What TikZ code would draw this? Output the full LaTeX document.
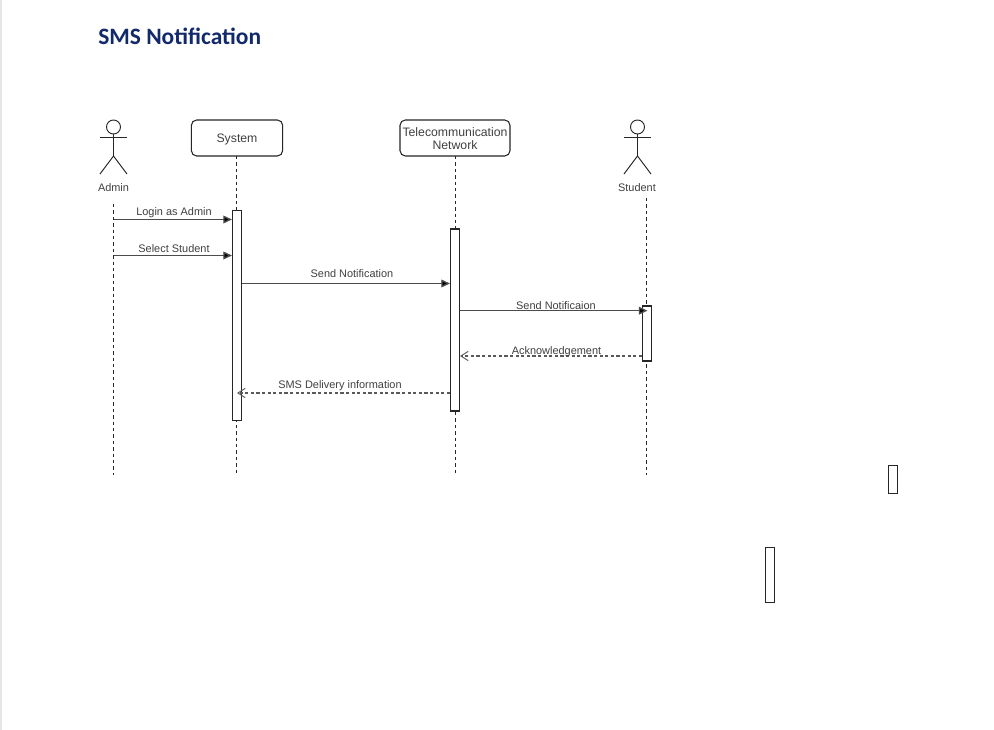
\documentclass[tikz,border=0pt]{standalone}
\usepackage{fontspec}
\setmainfont{Liberation Sans}
\newfontfamily\titlefont{Carlito}
\usetikzlibrary{arrows.meta}
\definecolor{titleblue}{HTML}{12296B}
\definecolor{labelgray}{HTML}{404040}
\definecolor{strip}{HTML}{E6E6E6}
\tikzset{
  x=0.75pt,y=-0.75pt,
  line width=0.75pt,
  lbl/.style={font=\fontsize{8.2pt}{10pt}\selectfont,text=labelgray,inner sep=0pt,align=center},
  titletext/.style={font=\titlefont\bfseries\fontsize{17.6pt}{20pt}\selectfont,text=titleblue,inner sep=0pt,anchor=west},
  lifebox/.style={draw=black!85,line width=0.8pt,rounded corners=4pt,fill=white,inner sep=0pt,minimum height=27pt,font=\fontsize{9.2pt}{9.75pt}\selectfont,text=labelgray,align=center},
  actbox/.style={draw=black!85,line width=0.8pt,fill=white,inner sep=0pt,minimum width=6.75pt},
  lifeline/.style={draw=black!85,line width=0.75pt,dash pattern=on 2.6pt off 2.2pt},
  stick/.style={draw=black!85,line width=0.7pt},
  msg/.style={draw=black!70,line width=1pt,-{Triangle[length=6.5pt,width=5.8pt,fill=black]}},
  reply/.style={draw=black!65,line width=0.8pt,dash pattern=on 2.4pt off 1.8pt,-{Straight Barb[length=5.5pt,width=7pt,line width=0.7pt]}},
}
\begin{document}
\begin{tikzpicture}
\useasboundingbox (0,0) rectangle (994,730);
\fill[white] (0,0) rectangle (994,730);
\fill[strip] (0,0) rectangle (2,730);

\node[titletext] (title) at (98,36) {SMS Notification};

% actors
\node[stick,draw,circle,minimum size=10.5pt,inner sep=0pt] (adminhead) at (113.5,127) {};
\coordinate (adminarmL) at (100,137.7);
\coordinate (adminarmR) at (127,137.7);
\coordinate (adminhip) at (113.5,156);
\coordinate (adminlegL) at (100,174);
\coordinate (adminlegR) at (127,174);
\draw[stick] (adminhead.south) -- (adminhip);
\draw[stick] (adminarmL) -- (adminarmR);
\draw[stick] (adminlegL) -- (adminhip) -- (adminlegR);
\node[lbl] (adminlabel) at (113.5,187.5) {Admin};

\node[stick,draw,circle,minimum size=10.5pt,inner sep=0pt] (studenthead) at (637.5,127) {};
\coordinate (studentarmL) at (624,137.7);
\coordinate (studentarmR) at (651,137.7);
\coordinate (studenthip) at (637.5,156);
\coordinate (studentlegL) at (624,174);
\coordinate (studentlegR) at (651,174);
\draw[stick] (studenthead.south) -- (studenthip);
\draw[stick] (studentarmL) -- (studentarmR);
\draw[stick] (studentlegL) -- (studenthip) -- (studentlegR);
\node[lbl] (studentlabel) at (637,187.5) {Student};

% lifeline heads
\node[lifebox,minimum width=68.5pt] (system) at (237,138) {\rule{0pt}{9pt}System};
\node[lifebox,minimum width=82.5pt] (telecom) at (455,138) {\rule{0pt}{8.2pt}Telecommunication\\Network};

% lifeline ends
\coordinate (admintop) at (113.5,204);
\coordinate (adminend) at (113.5,475);
\coordinate (studenttop) at (646.5,198);
\coordinate (studentend) at (646.5,475);
\coordinate (systemend) at (236.5,475);
\coordinate (telecomend) at (455.5,475);
\coordinate (systemtop) at (236.5,156);
\coordinate (telecomtop) at (455.5,156);

\draw[lifeline] (admintop) -- (adminend);
\draw[lifeline] (systemtop) -- (systemend);
\draw[lifeline] (telecomtop) -- (telecomend);
\draw[lifeline] (studenttop) -- (studentend);

% activations
\node[actbox,minimum height=157.5pt] (sysact) at (237,315.3) {};
\node[actbox,minimum height=136.5pt] (telact) at (455,320) {};
\node[actbox,minimum height=41.25pt] (stuact) at (647,333.5) {};

% stray boxes
\node[actbox,minimum height=41.25pt] (strayA) at (770,575) {};
\node[actbox,minimum height=21pt] (strayB) at (893,479.5) {};

% messages
\coordinate (m1s) at (113.5,219.5);
\coordinate (m2s) at (113.5,255.5);
\draw[msg] (m1s) -- (m1s -| sysact.west);
\draw[msg] (m2s) -- (m2s -| sysact.west);
\coordinate (m3s) at (sysact.east |- 0,283.5);
\draw[msg] (m3s) -- (m3s -| telact.west);
\coordinate (m4s) at (telact.east |- 0,310.7);
\coordinate (m4e) at (647.5,310.7);
\draw[msg] (m4s) -- (m4e);
\coordinate (m5s) at (stuact.west |- 0,356);
\draw[reply] (m5s) -- (m5s -| telact.east);
\coordinate (m6s) at (telact.west |- 0,393);
\coordinate (m6e) at (237,393);
\draw[reply] (m6s) -- (m6e);

% message labels
\node[lbl] (l1) at (174,212.5) {Login as Admin};
\node[lbl] (l2) at (174,248.5) {Select Student};
\node[lbl] (l3) at (352,274) {Send Notification};
\node[lbl] (l4) at (556,306) {Send Notificaion};
\node[lbl] (l5) at (556.5,352) {Acknowledgement};
\node[lbl] (l6) at (340,385.5) {SMS Delivery information};
\end{tikzpicture}
\end{document}
